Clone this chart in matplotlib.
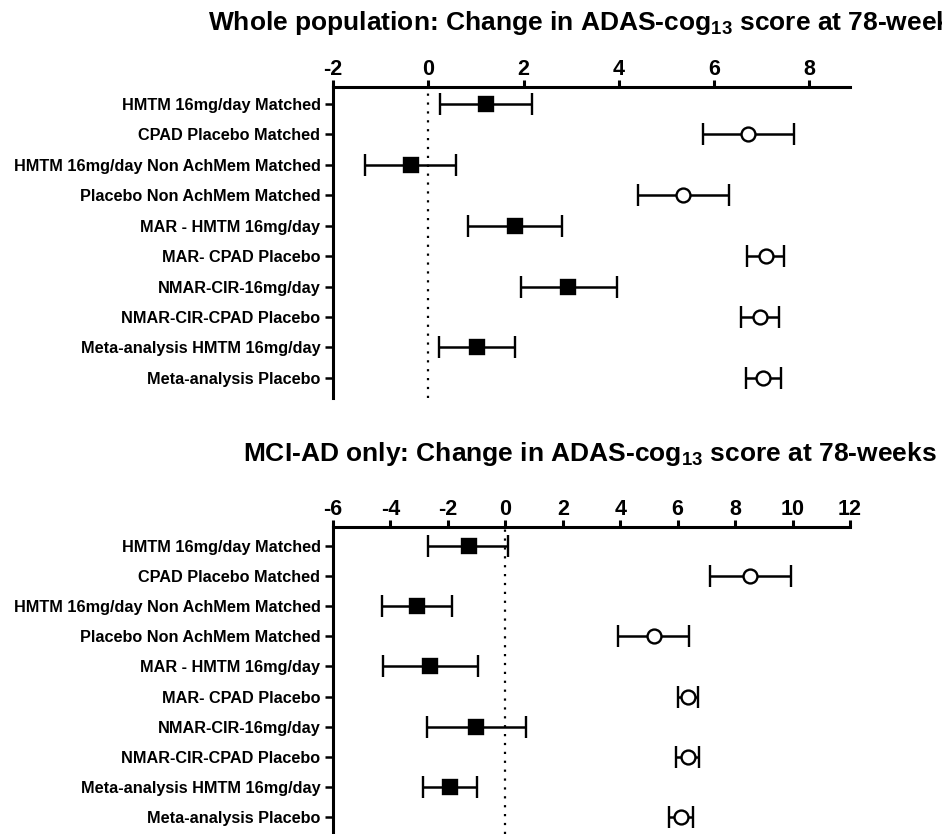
import numpy as np
import matplotlib.pyplot as plt

plt.rcParams['font.family'] = 'Liberation Sans'
plt.rcParams['font.weight'] = 'bold'
plt.rcParams['mathtext.fontset'] = 'custom'
plt.rcParams['mathtext.rm'] = 'Liberation Sans:bold'
plt.rcParams['mathtext.it'] = 'Liberation Sans:bold'
plt.rcParams['mathtext.bf'] = 'Liberation Sans:bold'

labels = ['HMTM 16mg/day Matched', 'CPAD Placebo Matched',
          'HMTM 16mg/day Non AchMem Matched', 'Placebo Non AchMem Matched',
          'MAR - HMTM 16mg/day', 'MAR- CPAD Placebo', 'NMAR-CIR-16mg/day',
          'NMAR-CIR-CPAD Placebo', 'Meta-analysis HMTM 16mg/day',
          'Meta-analysis Placebo']
# True = HMTM (filled square), False = placebo (open circle)
is_hmtm = [True, False, True, False, True, False, True, False, True, False]

# Whole population
whole_mean = [1.21, 6.71, -0.37, 5.35, 1.82, 7.08, 2.94, 6.96, 1.02, 7.03]
whole_lo = [0.25, 5.76, -1.32, 4.40, 0.83, 6.69, 1.94, 6.57, 0.22, 6.66]
whole_hi = [2.18, 7.67, 0.59, 6.31, 2.81, 7.47, 3.95, 7.37, 1.82, 7.40]

# MCI-AD only
mci_mean = [-1.28, 8.53, -3.07, 5.16, -2.62, 6.35, -1.02, 6.35, -1.93, 6.10]
mci_lo = [-2.69, 7.12, -4.28, 3.94, -4.26, 6.00, -2.74, 5.95, -2.87, 5.70]
mci_hi = [0.10, 9.94, -1.85, 6.38, -0.95, 6.72, 0.72, 6.75, -0.99, 6.52]

W, H = 942, 834
fig = plt.figure(figsize=(W / 100, H / 100), dpi=100)


def forest(ax, mean, lo, hi, xlim, xticks):
    y = np.arange(len(labels))
    mean = np.array(mean)
    err = [mean - np.array(lo), np.array(hi) - mean]
    ax.axvline(0, color='black', linestyle=(0, (1, 3)), lw=1.6, zorder=1)
    for i in y:
        filled = is_hmtm[i]
        ax.errorbar(mean[i], i, xerr=[[err[0][i]], [err[1][i]]],
                    fmt='s' if filled else 'o', color='black',
                    mfc='black' if filled else 'white', mec='black',
                    ms=9.5 if filled else 10, mew=1.7, elinewidth=1.8,
                    capsize=8, capthick=1.8, zorder=3)
    ax.set_xlim(*xlim)
    ax.set_xticks(xticks)
    ax.set_xticklabels([str(t) for t in xticks])
    ax.set_yticks(y)
    ax.set_yticklabels(labels)
    ax.xaxis.tick_top()
    ax.spines['bottom'].set_visible(False)
    ax.spines['right'].set_visible(False)
    ax.spines['top'].set_linewidth(2.2)
    ax.spines['left'].set_linewidth(2.2)
    ax.tick_params(axis='x', length=5, width=2.2, labelsize=15.5, pad=0)
    ax.tick_params(axis='y', length=6, width=1.8, labelsize=11.7, pad=3)


def px(x0, y0, x1, y1):
    return [x0 / W, 1 - y1 / H, (x1 - x0) / W, (y1 - y0) / H]


ax1 = fig.add_axes(px(333, 87, 850, 398))
forest(ax1, whole_mean, whole_lo, whole_hi, (-2, 8.85), [-2, 0, 2, 4, 6, 8])
ax1.set_ylim(9.66, -0.56)

ax2 = fig.add_axes(px(333, 527, 850, 834))
forest(ax2, mci_mean, mci_lo, mci_hi, (-6, 12), list(range(-6, 13, 2)))
ax2.set_ylim(9.565, -0.63)

# the reference image is cropped on the right, so the first title runs off the edge
fig.text(208 / W, 1 - 30 / H,
         r'Whole population: Change in ADAS-cog$_{13}$ score at 78-weeks',
         fontsize=19, fontweight='bold', ha='left', va='baseline')
fig.text(243 / W, 1 - 461 / H,
         r'MCI-AD only: Change in ADAS-cog$_{13}$ score at 78-weeks',
         fontsize=19, fontweight='bold', ha='left', va='baseline')

fig.savefig('out.png', dpi=100)
